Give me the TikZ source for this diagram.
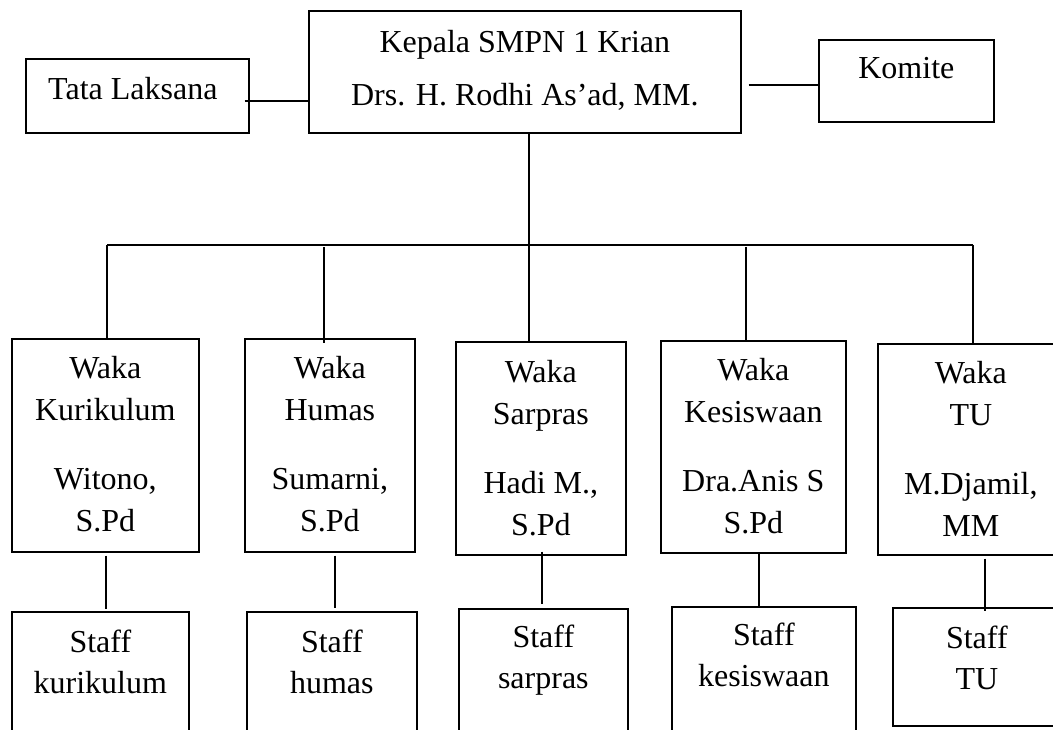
\documentclass[tikz,border=0pt]{standalone}
\usepackage{fontspec}
\setmainfont{Liberation Serif}
\usetikzlibrary{calc}
\begin{document}
\begin{tikzpicture}[x=1pt,y=-1pt,
  box/.style={draw=black, line width=1.7pt, inner sep=0pt, anchor=north west},
  txt/.style={anchor=north, inner sep=0pt, align=center, font=\fontsize{32}{42}\selectfont},
  stafftxt/.style={txt, font=\fontsize{32}{41}\selectfont},
  link/.style={draw=black, line width=1.5pt}]
\useasboundingbox (0,0) rectangle (1053,730);
\fill[white] (0,0) rectangle (1053,730);
\clip (0,0) rectangle (1053,730);

% top row
\node[box, minimum width=223pt, minimum height=74pt] (tata) at (25,58) {};
\node[box, minimum width=432pt, minimum height=122pt] (head) at (308,10) {};
\node[box, minimum width=175pt, minimum height=82pt] (komite) at (818,39) {};
\node[txt] (tataT) at ($(tata.north)+(-4.5,19)$) {Tata Laksana};
\node[txt] (headT) at ($(head.north)+(0,20)$) {Kepala SMPN 1 Krian\\[11.3pt]Drs. H. Rodhi As’ad, MM.};
\node[txt] (komiteT) at ($(komite.north)+(0,18)$) {Komite};

% waka row
\node[box, minimum width=187pt, minimum height=213pt] (kur) at (11,338) {};
\node[box, minimum width=170pt, minimum height=213pt] (hum) at (244,338) {};
\node[box, minimum width=170pt, minimum height=213pt] (sar) at (455,341) {};
\node[box, minimum width=185pt, minimum height=212pt] (kes) at (660,340) {};
\node[box, minimum width=186pt, minimum height=211pt] (tu) at (877,343) {};
\node[txt] (kurT) at ($(kur.north)+(0,18)$) {Waka\\Kurikulum\\[27pt]Witono,\\S.Pd};
\node[txt] (humT) at ($(hum.north)+(0,18)$) {Waka\\Humas\\[27pt]Sumarni,\\S.Pd};
\node[txt] (sarT) at ($(sar.north)+(0,19)$) {Waka\\Sarpras\\[27pt]Hadi M.,\\S.Pd};
\node[txt] (kesT) at ($(kes.north)+(0,18)$) {Waka\\Kesiswaan\\[27pt]Dra.Anis S\\S.Pd};
\node[txt] (tuT) at ($(tu.north)+(0,18)$) {Waka\\TU\\[27pt]M.Djamil,\\MM};

% staff row
\node[box, minimum width=177pt, minimum height=140pt] (skur) at (11,611) {};
\node[box, minimum width=170pt, minimum height=140pt] (shum) at (246,611) {};
\node[box, minimum width=169pt, minimum height=140pt] (ssar) at (458,608) {};
\node[box, minimum width=184pt, minimum height=140pt] (skes) at (671,606) {};
\node[box, minimum width=168pt, minimum height=118pt] (stu) at (892,607) {};
\node[stafftxt] (skurT) at ($(skur.north)+(0,19)$) {Staff\\kurikulum};
\node[stafftxt] (shumT) at ($(shum.north)+(0,19)$) {Staff\\humas};
\node[stafftxt] (ssarT) at ($(ssar.north)+(0,17)$) {Staff\\sarpras};
\node[stafftxt] (skesT) at ($(skes.north)+(0,17)$) {Staff\\kesiswaan};
\node[stafftxt] (stuT) at ($(stu.north)+(0,19)$) {Staff\\TU};

% connectors top
\draw[link] ($(tata.east)+(-5,5)$) -- ($(head.west |- tata.east)+(0,5)$);
\draw[link] ($(head.east |- komite.west)+(7,4)$) -- ($(komite.west)+(0,4)$);
\coordinate (bj) at ($(head.south)+(4,113)$);
\coordinate (barL) at (107,245);
\coordinate (barR) at (973,245);
\draw[link] ($(head.south)+(4,0)$) -- (bj);
\draw[link] (barL) -- (barR);

% drops to waka
\draw[link] (barL) -- (barL |- kur.north);
\draw[link] ($(hum.north)+(-6,-90.5)$) -- ($(hum.north)+(-6,5)$);
\draw[link] (bj) -- (bj |- sar.north);
\draw[link] ($(kes.north)+(-7.5,-93)$) -- ($(kes.north)+(-7.5,2)$);
\draw[link] (barR) -- (barR |- tu.north);

% waka to staff
\draw[link] ($(kur.south)+(0.5,3)$) -- ($(kur.south |- skur.north)+(0.5,-2)$);
\draw[link] ($(hum.south)+(5,3)$) -- ($(hum.south |- shum.north)+(5,-3)$);
\draw[link] ($(sar.south)+(1,-4)$) -- ($(sar.south |- ssar.north)+(1,-4)$);
\draw[link] ($(kes.south)+(5.5,0)$) -- ($(kes.south |- skes.north)+(5.5,1)$);
\draw[link] ($(tu.south)+(14,3)$) -- ($(tu.south |- stu.north)+(14,4)$);
\end{tikzpicture}
\end{document}
